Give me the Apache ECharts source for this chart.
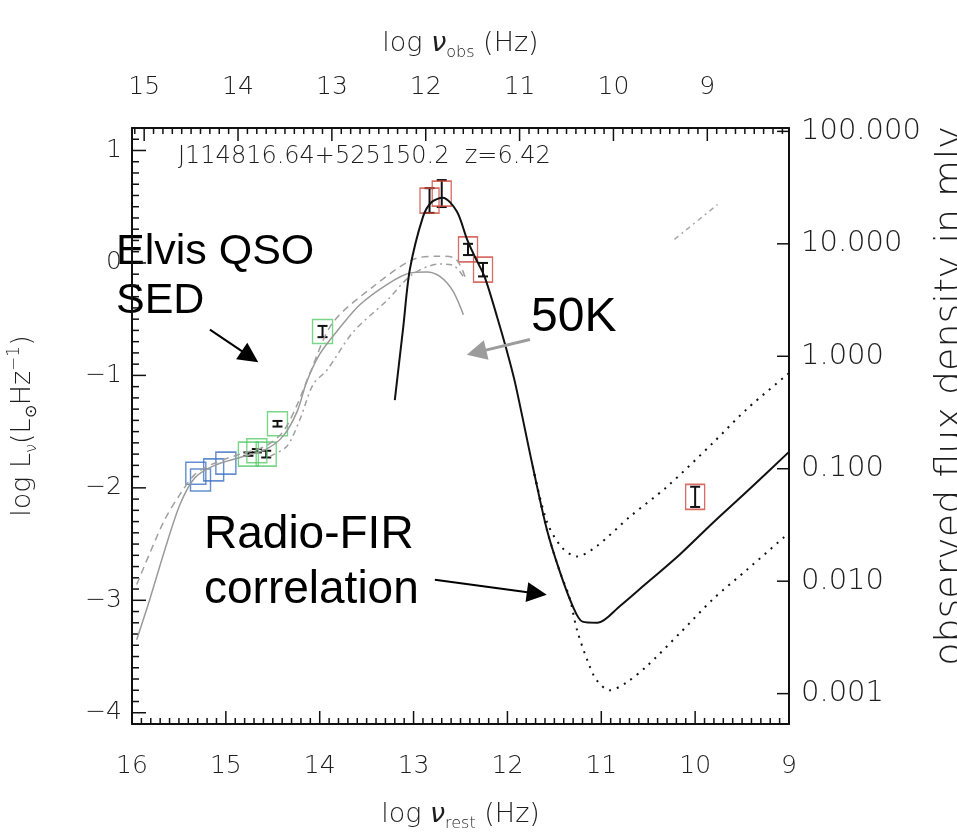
<!DOCTYPE html>
<html><head><meta charset="utf-8">
<script src="https://cdn.jsdelivr.net/npm/echarts@6/dist/echarts.min.js"></script>
<style>html,body{margin:0;padding:0;background:#fff}#c{width:957px;height:840px}</style>
</head><body><div id="c"></div>
<script>
// ---------- chart values ----------
const redshift = 6.42;
const fluxOffset = 0.83;            // log10(S_obs / mJy) - log L_nu
const restTicks = [9, 10, 11, 12, 13, 14, 15, 16];
const obsTicks = [9, 10, 11, 12, 13, 14, 15];
const lumTicks = [-4, -3, -2, -1, 0, 1];
const fluxTicks = [-3, -2, -1, 0, 1, 2];

// photometry boxes: [log nu_rest, log L_nu, error]
const bluePoints  = [[15.32, -1.87, 0.01], [15.27, -1.93, 0.01], [15.13, -1.84, 0.01], [15.00, -1.78, 0.01]];
const greenPoints = [[14.76, -1.70, 0.015], [14.67, -1.67, 0.015], [14.57, -1.70, 0.03], [14.45, -1.43, 0.025], [13.97, -0.61, 0.05]];
const redPoints   = [[12.83, 0.555, 0.11], [12.70, 0.617, 0.12], [12.42, 0.12, 0.05], [12.26, -0.06, 0.06], [10.00, -2.08, 0.09]];

// 50K dust + radio model and the radio-FIR correlation scatter
const modelSolid = [[13.20,-1.22],[13.11,-0.57],[13.04,-0.06],[12.90,0.41],[12.81,0.54],[12.69,0.58],[12.54,0.46],[12.43,0.21],[12.35,0.06],[12.24,-0.13],[12.11,-0.48],[12.01,-0.77],[11.92,-1.06],[11.73,-1.81],[11.58,-2.37],[11.44,-2.75],[11.31,-3.04],[11.20,-3.19],[11.04,-3.20],[10.80,-3.05],[10.59,-2.90],[10.16,-2.59],[9.81,-2.31],[9.42,-2.01],[9.00,-1.68]];
const modelUpper = [[11.73,-1.81],[11.58,-2.30],[11.42,-2.53],[11.26,-2.61],[11.05,-2.52],[10.70,-2.26],[10.30,-1.99],[9.81,-1.60],[9.45,-1.30],[9.00,-0.98]];
const modelLower = [[11.73,-1.81],[11.58,-2.37],[11.44,-2.75],[11.34,-2.97],[11.26,-3.26],[11.15,-3.53],[11.05,-3.71],[10.91,-3.80],[10.73,-3.73],[10.52,-3.59],[10.16,-3.29],[9.81,-2.99],[9.45,-2.73],[9.00,-2.40]];

// Elvis QSO SED templates (grey)
const elvisSolid = [[15.95,-3.35],[15.81,-2.99],[15.65,-2.55],[15.49,-2.15],[15.33,-1.91],[15.12,-1.80],[14.85,-1.73],[14.58,-1.66],[14.39,-1.54],[14.24,-1.32],[14.14,-1.06],[14.00,-0.81],[13.78,-0.57],[13.57,-0.37],[13.28,-0.19],[13.04,-0.09],[12.86,-0.08],[12.72,-0.12],[12.58,-0.25],[12.47,-0.46]];
const elvisDashed = [[15.95,-2.86],[15.81,-2.58],[15.65,-2.28],[15.49,-2.06],[15.33,-1.88],[15.12,-1.78],[14.85,-1.70],[14.58,-1.63],[14.39,-1.50],[14.24,-1.26],[14.10,-0.97],[13.86,-0.53],[13.43,-0.21],[13.01,0.03],[12.75,0.06],[12.58,0.05],[12.51,-0.01],[12.44,-0.15]];
const elvisDotted = [[14.53,-1.72],[14.35,-1.63],[14.21,-1.39],[14.07,-1.08],[13.92,-0.95],[13.65,-0.62],[13.28,-0.33],[13.01,-0.10],[12.72,-0.01],[12.58,-0.02],[12.47,-0.12]];
const elvisRadio = [[10.22,0.21],[9.76,0.52]];

// annotation arrows: [from, to] in [log nu_rest, log L_nu]
const arrowElvis = [[15.17,-0.593],[14.743,-0.833]];
const arrow50K   = [[11.76,-0.681],[12.33,-0.795]];
const arrowRadio = [[12.773,-2.817],[11.687,-2.939]];

// ---------- derived ----------
const zShift = Math.log10(1 + redshift);
const X_MIN = 9, X_MAX = 16, Y_MIN = -4.1, Y_MAX = 1.2;
const minorLum = [], minorObs = [], minorRest = [];
for (let i = -40; i <= 11; i++) if (i % 10 !== 0) minorLum.push(i / 10);
for (let i = 82; i <= 151; i++) if (i % 10 !== 0) minorObs.push(i / 10);
for (let i = 91; i <= 159; i++) if (i % 10 !== 0) minorRest.push(i / 10);

// tick marks placed on the frame: [x, y, kind]; kind = side*2 + major (side 0 bottom,1 top,2 left,3 right)
const tickData = [].concat(
  restTicks.map(v => [v, Y_MIN, 1]), minorRest.map(v => [v, Y_MIN, 0]),
  obsTicks.map(v => [v + zShift, Y_MAX, 3]), minorObs.map(v => [v + zShift, Y_MAX, 2]),
  lumTicks.map(v => [X_MAX, v, 5]), minorLum.map(v => [X_MAX, v, 4]),
  fluxTicks.map(v => [X_MIN, v - fluxOffset, 7])
);

const FONT = 'DejaVu Sans';
const TXT = '#1e1e1e';
const fmtSigned = v => (v < 0 ? '\u2212' + (-v) : String(v));

const axisLineStyle = { color: '#111', width: 2 };
const labelStyle = { fontFamily: FONT, fontSize: 25, color: TXT, fontWeight: 200 };

const nameRich = {
  a: { fontFamily: FONT, fontSize: 27, color: TXT, lineHeight: 34, fontWeight: 200 },
  g: { fontFamily: FONT, fontSize: 27, color: TXT, lineHeight: 34, fontStyle: 'italic', fontWeight: 200 },
  s: { fontFamily: FONT, fontSize: 16, color: TXT, lineHeight: 18, verticalAlign: 'bottom', fontWeight: 200 },
  p: { fontFamily: FONT, fontSize: 17, color: TXT, lineHeight: 18, verticalAlign: 'top', fontWeight: 200 }
};

const chart = echarts.init(document.getElementById('c'), null, { renderer: 'canvas' });

function errData(pts) { return pts.map(p => [p[0], p[1] - p[2], p[1] + p[2]]); }

function renderTick(params, api) {
  const kind = api.value(2), side = Math.floor(kind / 2), major = kind % 2 === 1;
  const p = api.coord([api.value(0), api.value(1)]);
  let dx = 0, dy = 0;
  if (side === 0) dy = -(major ? 13 : 6);
  else if (side === 1) dy = major ? 13 : 6;
  else if (side === 2) dx = major ? 14 : 7;
  else dx = -12;
  return { type: 'line', shape: { x1: p[0], y1: p[1], x2: p[0] + dx, y2: p[1] + dy },
    style: { stroke: '#111', lineWidth: 1.5 } };
}

const option = {
  animation: false,
  backgroundColor: '#ffffff',
  grid: { left: 132, right: 168, top: 128, bottom: 116, containLabel: false, outerBoundsMode: 'none' },
  xAxis: [
    {
      type: 'value', position: 'bottom', min: X_MIN, max: X_MAX, interval: 1, inverse: true,
      axisLine: { show: true, onZero: false, lineStyle: axisLineStyle },
      axisTick: { show: false },
      axisLabel: Object.assign({ margin: 30, customValues: restTicks }, labelStyle),
      splitLine: { show: false },
      name: '{a|log }{g|\u03bd}{s|rest}{a| (Hz)}', nameLocation: 'middle', nameGap: 74,
      nameTextStyle: { fontFamily: FONT, color: TXT, rich: nameRich }
    },
    {
      type: 'value', position: 'top', min: X_MIN - zShift, max: X_MAX - zShift, inverse: true,
      axisLine: { show: true, onZero: false, lineStyle: axisLineStyle },
      axisTick: { show: false },
      axisLabel: Object.assign({ margin: 28, customValues: obsTicks }, labelStyle),
      splitLine: { show: false },
      name: '{a|log }{g|\u03bd}{s|obs}{a| (Hz)}', nameLocation: 'middle', nameGap: 67,
      nameTextStyle: { fontFamily: FONT, color: TXT, rich: nameRich }
    }
  ],
  yAxis: [
    {
      type: 'value', position: 'left', min: Y_MIN, max: Y_MAX,
      axisLine: { show: true, onZero: false, lineStyle: axisLineStyle },
      axisTick: { show: false },
      axisLabel: Object.assign({ margin: 10, customValues: lumTicks, formatter: fmtSigned }, labelStyle),
      splitLine: { show: false },
      name: '{a|log L}{s|\u03bd}{a|(L}{s|\u2299}{a|Hz}{p|\u22121}{a|)}', nameLocation: 'middle', nameGap: 92, nameRotate: 90,
      nameTextStyle: { fontFamily: FONT, color: TXT, rich: nameRich }
    },
    {
      type: 'value', position: 'right', min: Y_MIN + fluxOffset, max: Y_MAX + fluxOffset,
      axisLine: { show: true, onZero: false, lineStyle: axisLineStyle },
      axisTick: { show: false },
      axisLabel: { margin: 12, customValues: fluxTicks, formatter: v => Math.pow(10, v).toFixed(3),
        fontFamily: FONT, fontSize: 29, color: TXT, fontWeight: 200 },
      splitLine: { show: false },
      name: 'observed flux density in mJy', nameLocation: 'middle', nameGap: 141, nameRotate: 90,
      nameTextStyle: { fontFamily: FONT, fontSize: 38, color: TXT, fontWeight: 200, padding: [0, 0, 0, 60] }
    }
  ],
  graphic: [
    { type: 'text', left: 178, top: 145, silent: true,
      style: { text: 'J114816.64+525150.2  z=6.42', font: '200 24px "DejaVu Sans"', fill: TXT } },
    { type: 'text', left: 116, top: 231, silent: true,
      style: { text: 'Elvis QSO', font: '43px "Liberation Sans"', fill: '#000' } },
    { type: 'text', left: 116, top: 280, silent: true,
      style: { text: 'SED', font: '43px "Liberation Sans"', fill: '#000' } },
    { type: 'text', left: 531, top: 294, silent: true,
      style: { text: '50K', font: '48px "Liberation Sans"', fill: '#000' } },
    { type: 'text', left: 204, top: 512, silent: true,
      style: { text: 'Radio-FIR', font: '46px "Liberation Sans"', fill: '#000' } },
    { type: 'text', left: 204, top: 567, silent: true,
      style: { text: 'correlation', font: '46px "Liberation Sans"', fill: '#000' } }
  ],
  series: [
    { type: 'custom', name: 'ticks', silent: true, clip: false, data: tickData, renderItem: renderTick, z: 3 },
    { type: 'line', name: 'Elvis solid', data: elvisSolid, showSymbol: false, smooth: 0.3, silent: true,
      lineStyle: { color: '#9a9a9a', width: 1.5 } },
    { type: 'line', name: 'Elvis dashed', data: elvisDashed, showSymbol: false, smooth: 0.3, silent: true,
      lineStyle: { color: '#a0a0a0', width: 1.5, type: [7, 5] } },
    { type: 'line', name: 'Elvis dotted', data: elvisDotted, showSymbol: false, smooth: 0.3, silent: true,
      lineStyle: { color: '#a0a0a0', width: 1.5, type: [6, 4, 2, 4] } },
    { type: 'line', name: 'Elvis radio', data: elvisRadio, showSymbol: false, silent: true,
      lineStyle: { color: '#a8a8a8', width: 1.5, type: [5, 4, 2, 4] } },
    { type: 'line', name: '50K + radio', data: modelSolid, showSymbol: false, smooth: 0.3, silent: true,
      lineStyle: { color: '#111', width: 2 } },
    { type: 'line', name: 'radio-FIR high', data: modelUpper, showSymbol: false, smooth: 0.3, silent: true,
      lineStyle: { color: '#111', width: 2, type: [2, 6] } },
    { type: 'line', name: 'radio-FIR low', data: modelLower, showSymbol: false, smooth: 0.3, silent: true,
      lineStyle: { color: '#111', width: 2, type: [2, 6] } },
    { type: 'scatter', name: 'UV/optical', data: bluePoints.map(p => [p[0], p[1]]), symbol: 'rect', symbolSize: [20, 22], silent: true,
      itemStyle: { color: 'rgba(0,0,0,0)', borderColor: '#3f72c4', borderWidth: 1.5 } },
    { type: 'scatter', name: 'NIR/MIR', data: greenPoints.map(p => [p[0], p[1]]), symbol: 'rect', symbolSize: [20, 24], silent: true,
      itemStyle: { color: 'rgba(0,0,0,0)', borderColor: '#58cc6c', borderWidth: 1.5 } },
    { type: 'scatter', name: 'FIR/radio', data: redPoints.map(p => [p[0], p[1]]), symbol: 'rect', symbolSize: [19, 25], silent: true,
      itemStyle: { color: 'rgba(0,0,0,0)', borderColor: '#cc4a3e', borderWidth: 1.5 } },
    { type: 'custom', name: 'errors', silent: true,
      data: errData(greenPoints.concat(redPoints)),
      renderItem: function (params, api) {
        const x = api.value(0), lo = api.value(1), hi = api.value(2);
        const a = api.coord([x, lo]), b = api.coord([x, hi]);
        const w = 5, st = { stroke: '#111', lineWidth: 2 };
        return { type: 'group', children: [
          { type: 'line', shape: { x1: a[0], y1: a[1], x2: b[0], y2: b[1] }, style: st },
          { type: 'line', shape: { x1: a[0] - w, y1: a[1], x2: a[0] + w, y2: a[1] }, style: st },
          { type: 'line', shape: { x1: b[0] - w, y1: b[1], x2: b[0] + w, y2: b[1] }, style: st }
        ] };
      } },
    { type: 'line', name: 'annotations', data: [], silent: true,
      markLine: { silent: true, animation: false, symbol: ['none', 'triangle'], symbolSize: 20,
        label: { show: false }, emphasis: { disabled: true },
        data: [
          [{ coord: arrowElvis[0], lineStyle: { color: '#000', width: 2, type: 'solid' }, itemStyle: { color: '#000' } }, { coord: arrowElvis[1] }],
          [{ coord: arrow50K[0], lineStyle: { color: '#9c9c9c', width: 3, type: 'solid' }, itemStyle: { color: '#9c9c9c' } }, { coord: arrow50K[1] }],
          [{ coord: arrowRadio[0], lineStyle: { color: '#000', width: 2, type: 'solid' }, itemStyle: { color: '#000' } }, { coord: arrowRadio[1] }]
        ] } }
  ]
};
chart.setOption(option);
</script>
</body></html>
